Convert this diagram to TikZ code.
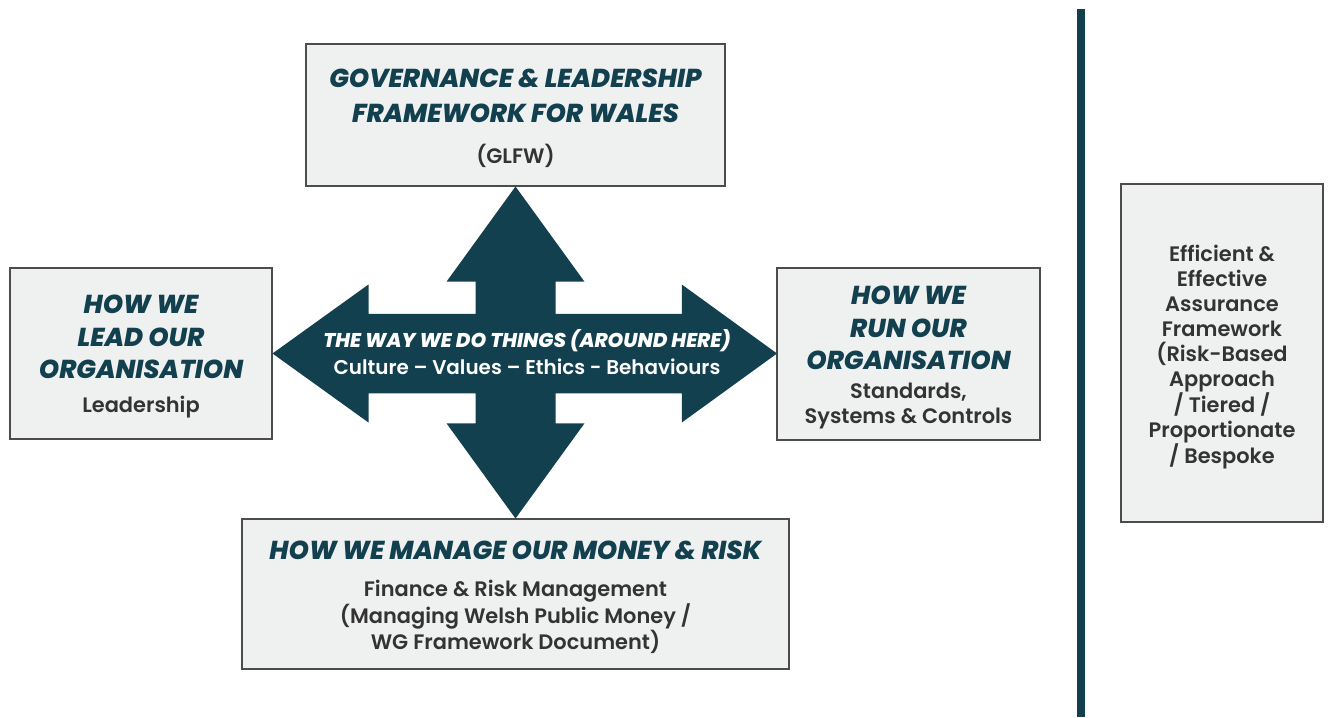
\documentclass[tikz,border=0pt]{standalone}
\usepackage{fontspec}
\IfFontExistsTF{Poppins SemiBold}
	{\newfontfamily\bodyfamily{Poppins SemiBold}}
	{\newfontfamily\bodyfamily{Poppins}}
\IfFontExistsTF{Poppins ExtraBold Italic}
	{\newfontfamily\headfamily{Poppins ExtraBold Italic}}
	{\newfontfamily\headfamily{Poppins}[UprightFont=*-BoldItalic]}
\definecolor{glteal}{HTML}{12404F}
\definecolor{glgrey}{HTML}{EFF1F0}
\definecolor{gltext}{HTML}{333333}
% heading lines and body lines of the panels
\newcommand\headtxt{\headfamily\fontsize{26}{25}\selectfont\color{glteal}}
\newcommand\bodytxt{\bodyfamily\fontsize{21}{25}\selectfont}
% strut on a panel's first line
\newcommand\toprule{\rule{0pt}{25bp}}
\begin{document}
\begin{tikzpicture}[x=1bp,y=-1bp]
	\tikzset{panel/.style={draw=black!70, line width=1.2bp, fill=glgrey, align=center, inner sep=0pt, font=\bodytxt, text=gltext}}
	\useasboundingbox (0,0) rectangle (1328,717);
	% the four panels round the cross
	\node[panel, minimum width=419bp, minimum height=142bp] (glfw) at (515.5,115) {\toprule\headtxt GOVERNANCE \& LEADERSHIP\\[11bp] \headtxt FRAMEWORK FOR WALES\\[16bp] (GLFW)};
	\node[panel, minimum width=262bp, minimum height=171bp] (lead) at (141,353.5) {\toprule\headtxt HOW WE\\[8bp] \headtxt LEAD OUR\\[7bp] \headtxt ORGANISATION\\[9bp] Leadership};
	\node[panel, minimum width=263bp, minimum height=172bp] (run) at (908.5,354) {\toprule\headtxt HOW WE\\[8bp] \headtxt RUN OUR\\[7bp] \headtxt ORGANISATION\\[4bp] Standards,\\ Systems \& Controls};
	\node[panel, minimum width=547bp, minimum height=150bp] (money) at (515.5,594) {\toprule\headtxt HOW WE MANAGE OUR MONEY \& RISK\\[12bp] Finance \& Risk Management\\ (Managing Welsh Public Money /\\ WG Framework Document)};
	% four-way arrow
	\fill[glteal] (515.5,186.5) -- (584.5,281.7) -- (555.5,281.7) -- (555.5,313.8) -- (681.8,313.8) -- (681.8,284.5)
		-- (777,353.5) -- (681.8,422.5) -- (681.8,393.3) -- (555.5,393.3) -- (555.5,423.3) -- (584.5,423.3)
		-- (515.5,518.5) -- (446.5,423.3) -- (475.5,423.3) -- (475.5,393.3) -- (368.5,393.3) -- (368.5,422.5)
		-- (272.5,353.5) -- (368.5,284.5) -- (368.5,313.8) -- (475.5,313.8) -- (475.5,281.7) -- (446.5,281.7) -- cycle;
	\node[align=center, inner sep=0pt, font=\bodytxt\fontsize{20}{25}\selectfont, text=white] (culture) at (527,352) {\headtxt\fontsize{20}{25}\selectfont\color{white} THE WAY WE DO THINGS (AROUND HERE)\\[1.6bp] Culture – Values – Ethics - Behaviours};
	% divider and the assurance panel
	\coordinate (bartop) at (1081,9);
	\coordinate (barfoot) at (1081,717);
	\draw[glteal, line width=8bp] (bartop) -- (barfoot);
	\node[panel, minimum width=202bp, minimum height=338bp] (assure) at (1222,353) {\toprule Efficient \&\\ Effective\\ Assurance\\ Framework\\ (Risk-Based\\ Approach\\ / Tiered /\\ Proportionate\\ / Bespoke};
\end{tikzpicture}
\end{document}
